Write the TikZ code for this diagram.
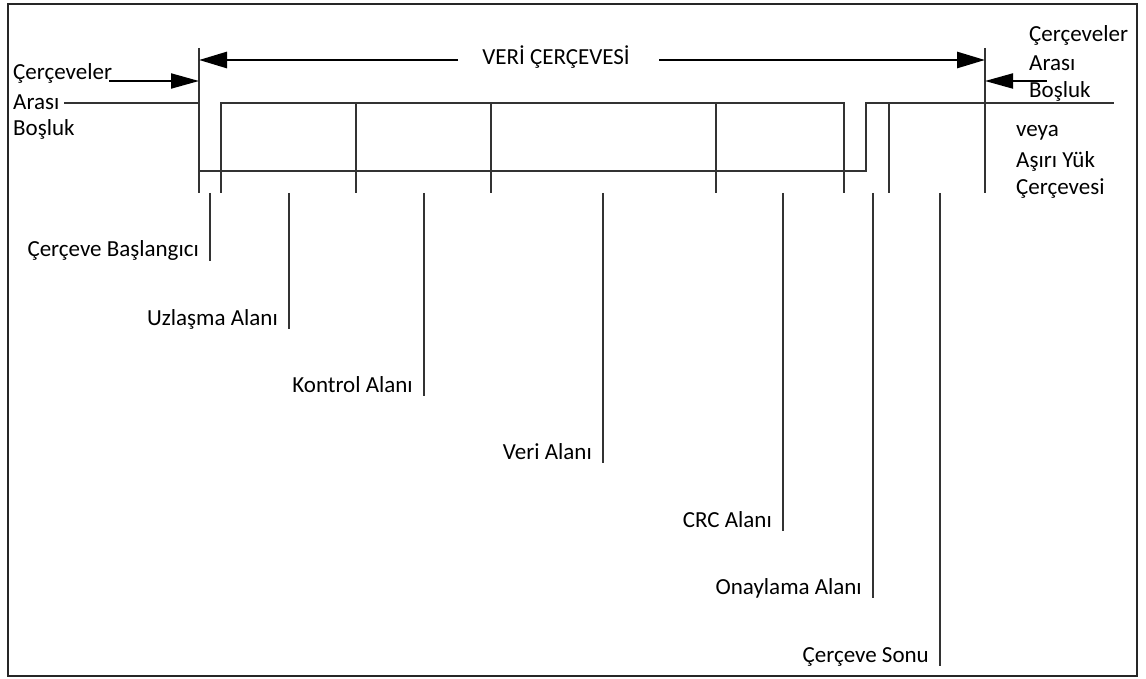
\documentclass[tikz,border=0pt]{standalone}
\usepackage{fontspec}
\setmainfont{Carlito}
\usetikzlibrary{arrows.meta}
\begin{document}
\begin{tikzpicture}[x=1pt,y=-1pt,
  sig/.style={line width=1.8pt,draw=black!80},
  big/.style={line width=2.8pt,-{Triangle[length=28pt,width=16pt]}},
  small/.style={line width=2pt,-{Triangle[length=28pt,width=15pt]}},
  lbl/.style={font=\fontsize{23}{28}\selectfont,inner sep=0pt,text=black}]
\useasboundingbox (0,0) rectangle (1146,679);
\draw[line width=2.6pt,draw=black!85] (8,4) rectangle (1137,676);

% left/right boundaries
\coordinate (L1) at (199,48); \coordinate (L2) at (199,193);
\coordinate (R1) at (985,48); \coordinate (R2) at (985,193);
\draw[sig] (L1) -- (L2);
\draw[sig] (R1) -- (R2);

% top arrow
\node[lbl,anchor=center] (vc) at (556,57) {VERİ ÇERÇEVESİ};
\coordinate (TA) at (199,60); \coordinate (TB) at (458,60);
\coordinate (TC) at (659,60); \coordinate (TD) at (985,60);
\draw[big] (TB) -- (TA);
\draw[big] (TC) -- (TD);

% left labels
\node[lbl,anchor=west] (lc) at (13,73) {Çerçeveler};
\node[lbl,anchor=west] (la) at (13,102) {Arası};
\node[lbl,anchor=west] (lb) at (13,129) {Boşluk};
\coordinate (LA1) at (109,81); \coordinate (LA2) at (199,81);
\draw[small] (LA1) -- (LA2);
\coordinate (LS) at (64,103);

% right labels
\node[lbl,anchor=west] (rc) at (1029,35) {Çerçeveler};
\node[lbl,anchor=west] (ra) at (1029,63) {Arası};
\node[lbl,anchor=west] (rb) at (1029,91) {Boşluk};
\node[lbl,anchor=west] (rv) at (1016,133) {veya};
\node[lbl,anchor=west] (ry) at (1016,161) {Aşırı Yük};
\node[lbl,anchor=west] (rz) at (1016,189) {Çerçevesi};
\coordinate (RA1) at (1047,81); \coordinate (RA2) at (985,81);
\draw[small] (RA1) -- (RA2);

% signal
\draw[sig] (LS) -- (199,103);
\draw[sig] (199,171) -- (866,171) -- (866,103) -- (1114,103);
\draw[sig] (221,193) -- (221,103) -- (845,103);
\foreach \x in {356,491,716,844,889} \draw[sig] (\x,103) -- (\x,193);

% lower labels
\foreach \x/\y/\t/\n in {210/261/Çerçeve Başlangıcı/a,289/329/Uzlaşma Alanı/b,424/396/Kontrol Alanı/c,603/463/Veri Alanı/d,783/531/CRC Alanı/e,873/598/Onaylama Alanı/f,940/666/Çerçeve Sonu/g}{
  \draw[sig] (\x,193) -- (\x,\y);
  \node[lbl,anchor=base east] (t\n) at (\x-11,\y-4) {\t};
}
\end{tikzpicture}
\end{document}
